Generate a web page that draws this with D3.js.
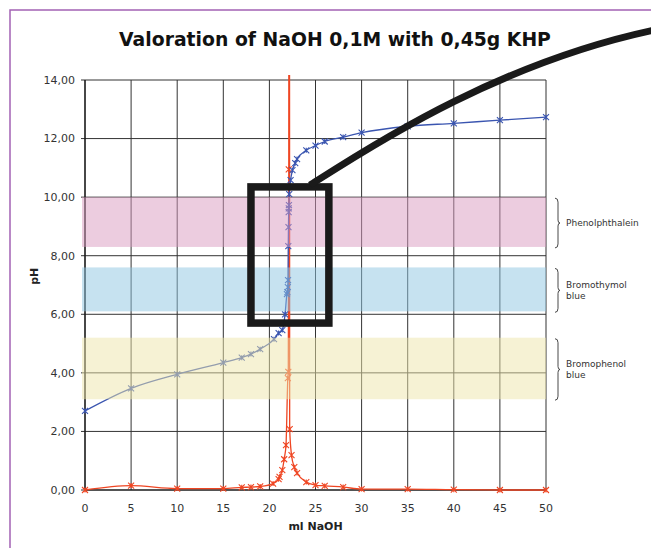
<!DOCTYPE html>
<html>
<head>
<meta charset="utf-8">
<script src="https://cdn.jsdelivr.net/npm/d3@7"></script>
<style>
  html, body { margin: 0; padding: 0; background: #fff; }
  svg { display: block; font-family: "DejaVu Sans", Verdana, sans-serif; }
</style>
</head>
<body>
<svg id="chart" width="651" height="548"></svg>
<script>
// ---------- DATA ----------
const titleText = "Valoration of NaOH 0,1M with 0,45g KHP";
const xAxisTitle = "ml NaOH";
const yAxisTitle = "pH";

const xTicks = [0, 5, 10, 15, 20, 25, 30, 35, 40, 45, 50];
const yTicks = [0, 2, 4, 6, 8, 10, 12, 14];

// titration curve (pH vs ml NaOH)
const volPH = [0, 5, 10, 15, 17, 18, 19, 20.5, 21, 21.4, 21.7, 21.9, 21.95, 22.0, 22.02,
               22.05, 22.07, 22.09, 22.1, 22.12, 22.15, 22.3, 22.5, 22.8, 23.0, 24, 25, 26, 28, 30, 35, 40, 45, 50];
const pHValues = [2.70, 3.47, 3.95, 4.35, 4.52, 4.64, 4.81, 5.15, 5.36, 5.46, 6.00, 6.69, 6.76, 6.93, 7.17,
                  8.33, 8.98, 9.49, 9.62, 9.73, 10.10, 10.58, 10.92, 11.16, 11.30, 11.60, 11.76, 11.90, 12.05, 12.20, 12.42, 12.52, 12.63, 12.73];

// first derivative (dpH/dV)
const volDeriv = [0, 5, 10, 15, 17, 18, 19, 20.4, 21, 21.1, 21.4, 21.6, 21.8, 22.0, 22.05, 22.1, 22.15,
                  22.2, 22.4, 22.7, 23, 24, 25, 26, 28, 30, 35, 40, 45, 50];
const derivValues = [0.00, 0.15, 0.05, 0.05, 0.09, 0.10, 0.12, 0.22, 0.37, 0.45, 0.68, 1.05, 1.53, 3.82, 4.03, 10.95, 40.0,
                     2.08, 1.19, 0.78, 0.58, 0.27, 0.17, 0.14, 0.10, 0.03, 0.03, 0.01, 0.00, 0.00];

// indicator ranges
const indicatorNames = [["Phenolphthalein"], ["Bromothymol", "blue"], ["Bromophenol", "blue"]];
const indicatorLow = [8.3, 6.1, 3.1];
const indicatorHigh = [10.0, 7.6, 5.2];
const indicatorColors = ["#d999bf", "#8dc5e1", "#ede5a9"];

// hand-drawn annotation (in data units)
const boxX = [18, 26.45];
const boxY = [5.7, 10.35];
const arrowPts = [[24.4, 10.41], [30.37, 11.61], [45.0, 14.68], [62.9, 15.78]];

// ---------- LAYOUT ----------
const svg = d3.select("#chart");
const x = d3.scaleLinear().domain([0, 50]).range([85, 546]);
const y = d3.scaleLinear().domain([0, 14]).range([490, 80]);
const fmt = v => d3.format(".2f")(v).replace(".", ",");

// frame
svg.append("path")
  .attr("d", "M10,560 L10,10 L660,10")
  .attr("fill", "none").attr("stroke", "#a262b4").attr("stroke-width", 1.5);

// title
const title = svg.append("text")
  .attr("x", 335).attr("y", 46)
  .attr("text-anchor", "middle")
  .attr("font-weight", "bold")
  .attr("font-size", 19)
  .attr("fill", "#111")
  .text(titleText);
{
  const w = title.node().getComputedTextLength();
  title.attr("font-size", 19 * 432 / w);
}

// grid
const grid = svg.append("g");
grid.selectAll("line.h").data(yTicks).join("line")
  .attr("x1", x(0) - 4).attr("x2", x(50))
  .attr("y1", d => y(d)).attr("y2", d => y(d))
  .attr("stroke", "#333").attr("stroke-width", 1);
grid.selectAll("line.v").data(xTicks).join("line")
  .attr("x1", d => x(d)).attr("x2", d => x(d))
  .attr("y1", y(14)).attr("y2", y(0))
  .attr("stroke", "#333").attr("stroke-width", 1);
svg.append("line").attr("x1", x(0)).attr("x2", x(0)).attr("y1", y(14)).attr("y2", y(0))
  .attr("stroke", "#111").attr("stroke-width", 1.2);
svg.append("line").attr("x1", x(0)).attr("x2", x(50)).attr("y1", y(0)).attr("y2", y(0))
  .attr("stroke", "#111").attr("stroke-width", 1.2);

// tick labels
svg.append("g").selectAll("text").data(yTicks).join("text")
  .attr("x", 75).attr("y", d => y(d)).attr("dy", "0.35em")
  .attr("text-anchor", "end").attr("font-size", 11).attr("fill", "#333")
  .text(fmt);
svg.append("g").selectAll("text").data(xTicks).join("text")
  .attr("x", d => x(d)).attr("y", 508).attr("dy", "0.35em")
  .attr("text-anchor", "middle").attr("font-size", 11).attr("fill", "#333")
  .text(d => d);

svg.append("text").attr("x", (x(0) + x(50)) / 2).attr("y", 526).attr("dy", "0.35em")
  .attr("text-anchor", "middle").attr("font-size", 11).attr("font-weight", "bold").attr("fill", "#222")
  .text(xAxisTitle);
svg.append("text").attr("transform", `translate(34,${y(7.3)}) rotate(-90)`).attr("dy", "0.35em")
  .attr("text-anchor", "middle").attr("font-size", 11).attr("font-weight", "bold").attr("fill", "#222")
  .text(yAxisTitle);

// clip for series
svg.append("clipPath").attr("id", "plotclip").append("rect")
  .attr("x", x(0) - 6).attr("y", y(14) - 5).attr("width", x(50) - x(0) + 12).attr("height", y(0) - y(14) + 11);

const series = svg.append("g").attr("clip-path", "url(#plotclip)");
const markPath = "M-3,-3L3,3M-3,3L3,-3M0,-2.5L0,2.5";

function drawSeries(xs, ys, color) {
  const pts = xs.map((v, i) => [v, ys[i]]);
  const line = d3.line().x(d => x(d[0])).y(d => y(d[1])).curve(d3.curveMonotoneX);
  series.append("path").datum(pts).attr("d", line)
    .attr("fill", "none").attr("stroke", color).attr("stroke-width", 1.3);
  series.append("g").selectAll("path").data(pts.filter(d => d[1] <= 14)).join("path")
    .attr("transform", d => `translate(${x(d[0])},${y(d[1])})`)
    .attr("d", markPath).attr("fill", "none").attr("stroke", color).attr("stroke-width", 1.1);
}
drawSeries(volDeriv, derivValues, "#ef4623");
drawSeries(volPH, pHValues, "#3a55b0");

// indicator bands (translucent overlay)
svg.append("g").selectAll("rect").data(indicatorLow).join("rect")
  .attr("x", x(0) - 3).attr("width", x(50) - x(0) + 3)
  .attr("y", (d, i) => y(indicatorHigh[i]))
  .attr("height", (d, i) => y(d) - y(indicatorHigh[i]))
  .attr("fill", (d, i) => indicatorColors[i]).attr("fill-opacity", 0.5);

// braces and labels
const bx = 555;
indicatorLow.forEach((lo, i) => {
  const top = y(indicatorHigh[i]) + 1, bot = y(lo) + 1, mid = (top + bot) / 2;
  svg.append("path")
    .attr("d", `M${bx},${top} Q${bx + 3},${top} ${bx + 3},${top + 4} L${bx + 3},${mid - 3} Q${bx + 3},${mid} ${bx + 5},${mid} Q${bx + 3},${mid} ${bx + 3},${mid + 3} L${bx + 3},${bot - 4} Q${bx + 3},${bot} ${bx},${bot}`)
    .attr("fill", "none").attr("stroke", "#333").attr("stroke-width", 0.9);
  const lines = indicatorNames[i];
  const t = svg.append("text").attr("x", 566).attr("font-size", 9).attr("fill", "#333");
  lines.forEach((s, k) => {
    t.append("tspan").attr("x", 566)
      .attr("y", mid + (k - (lines.length - 1) / 2) * 11.5)
      .attr("dy", "0.35em").text(s);
  });
});

// hand-drawn annotation
svg.append("rect")
  .attr("x", x(boxX[0])).attr("y", y(boxY[1]))
  .attr("width", x(boxX[1]) - x(boxX[0])).attr("height", y(boxY[0]) - y(boxY[1]))
  .attr("fill", "none").attr("stroke", "#1a1a1a").attr("stroke-width", 7.5);
const p = arrowPts.map(d => [x(d[0]), y(d[1])]);
svg.append("path")
  .attr("d", `M${p[0][0]},${p[0][1]} C${p[1][0]},${p[1][1]} ${p[2][0]},${p[2][1]} ${p[3][0]},${p[3][1]}`)
  .attr("fill", "none").attr("stroke", "#1a1a1a").attr("stroke-width", 7);
</script>
</body>
</html>
